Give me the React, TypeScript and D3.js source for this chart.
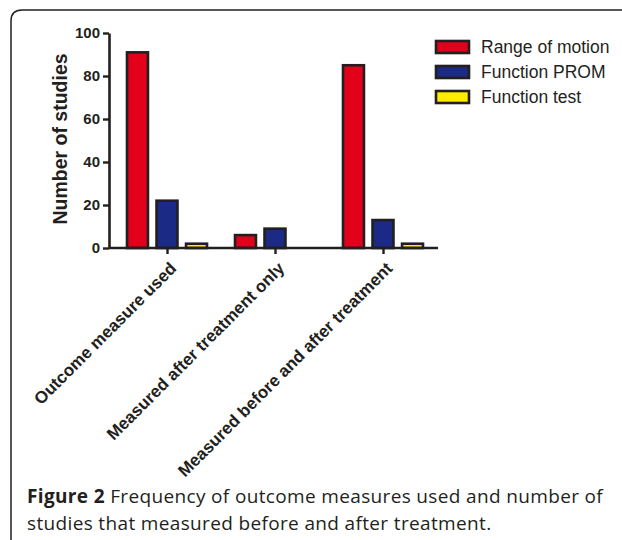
import { useEffect, useRef } from 'react';
import * as d3 from 'd3';

const categories = [
  'Outcome measure used',
  'Measured after treatment only',
  'Measured before and after treatment',
];
const seriesNames = ['Range of motion', 'Function PROM', 'Function test'];
const seriesColors = ['#e3001b', '#1b2a84', '#ffec00'];
const rangeOfMotion = [91, 6, 85];
const functionProm = [22, 9, 13];
const functionTest = [2, 0, 2];
const yTicks = [0, 20, 40, 60, 80, 100];

export default function App() {
  const svgRef = useRef<SVGSVGElement>(null);

  useEffect(() => {
    if (!svgRef.current) return;
    const svg = d3.select(svgRef.current);
    svg.selectAll('*').remove();

    const width = 622;
    const height = 540;
    const plot = { left: 109, right: 438, top: 33, bottom: 248 };
    const font = 'Liberation Sans, Arial, sans-serif';

    svg.append('rect').attr('width', width).attr('height', height).attr('fill', '#fff');

    // Frame (rounded top-left corner only)
    svg
      .append('path')
      .attr('d', `M11,540 L11,21 Q11,10 22,10 L622,10`)
      .attr('fill', 'none')
      .attr('stroke', '#231f20')
      .attr('stroke-width', 1.5);

    const series = [rangeOfMotion, functionProm, functionTest];

    const x0 = d3
      .scalePoint<string>()
      .domain(categories)
      .range([167, 383]);

    const x1 = d3
      .scaleBand<number>()
      .domain([0, 1, 2])
      .range([-40, 40])
      .paddingInner(0.29)
      .paddingOuter(0);

    const y = d3.scaleLinear().domain([0, 100]).range([plot.bottom, plot.top]);

    const g = svg.append('g');

    // Bars
    categories.forEach((cat, ci) => {
      series.forEach((vals, si) => {
        const v = vals[ci];
        if (v <= 0) return;
        const bx = (x0(cat) as number) + (x1(si) as number);
        g.append('rect')
          .attr('x', bx)
          .attr('y', y(v))
          .attr('width', x1.bandwidth())
          .attr('height', y(0) - y(v))
          .attr('fill', seriesColors[si])
          .attr('stroke', '#231f20')
          .attr('stroke-width', 2.6);
      });
    });

    // Y axis
    const yAxis = g
      .append('g')
      .attr('transform', `translate(${plot.left},0)`)
      .call(d3.axisLeft(y).tickValues(yTicks).tickSize(6).tickPadding(3).tickSizeOuter(0));
    yAxis.select('.domain').attr('stroke', '#231f20').attr('stroke-width', 2.6);
    yAxis.selectAll('.tick line').attr('stroke', '#231f20').attr('stroke-width', 2.4);
    yAxis
      .selectAll('.tick text')
      .attr('fill', '#231f20')
      .attr('font-family', font)
      .attr('font-weight', 'bold')
      .attr('font-size', 15);

    // X axis
    const xAxis = g
      .append('g')
      .attr('transform', `translate(0,${plot.bottom})`)
      .call(d3.axisBottom(x0).tickSize(6).tickSizeOuter(0).tickFormat(() => ''));
    xAxis
      .select('.domain')
      .attr('d', `M${plot.left},0H${plot.right}`)
      .attr('stroke', '#231f20')
      .attr('stroke-width', 2.6);
    xAxis.selectAll('.tick line').attr('stroke', '#231f20').attr('stroke-width', 2.4);

    // Rotated category labels
    categories.forEach((cat) => {
      const cx = (x0(cat) as number) + 2;
      g.append('text')
        .attr('transform', `translate(${cx},${plot.bottom + 13}) rotate(-45)`)
        .attr('text-anchor', 'end')
        .attr('dy', '0.7em')
        .attr('font-family', font)
        .attr('font-weight', 'bold')
        .attr('font-size', 17)
        .attr('fill', '#231f20')
        .text(cat);
    });

    // Y axis title
    svg
      .append('text')
      .attr('transform', `translate(67,139) rotate(-90)`)
      .attr('text-anchor', 'middle')
      .attr('font-family', font)
      .attr('font-weight', 'bold')
      .attr('font-size', 19.5)
      .attr('fill', '#231f20')
      .text('Number of studies');

    // Legend
    const legend = svg.append('g').attr('transform', 'translate(436,47)');
    seriesNames.forEach((name, i) => {
      const row = legend.append('g').attr('transform', `translate(0,${i * 25})`);
      row
        .append('rect')
        .attr('x', 0)
        .attr('y', -6)
        .attr('width', 33)
        .attr('height', 12)
        .attr('fill', seriesColors[i])
        .attr('stroke', '#231f20')
        .attr('stroke-width', 2.6);
      row
        .append('text')
        .attr('x', 45)
        .attr('dy', '0.35em')
        .attr('font-family', font)
        .attr('font-size', 17.5)
        .attr('fill', '#231f20')
        .text(name);
    });

    // Caption
    const caption = svg
      .append('text')
      .attr('font-family', 'Open Sans, sans-serif')
      .attr('font-size', 19)
      .attr('letter-spacing', 0.35)
      .attr('fill', '#231f20');
    const line1 = caption.append('tspan').attr('x', 27).attr('y', 503);
    line1.append('tspan').attr('font-weight', 'bold').text('Figure 2');
    line1.append('tspan').text(' Frequency of outcome measures used and number of');
    caption
      .append('tspan')
      .attr('x', 27)
      .attr('y', 530)
      .text('studies that measured before and after treatment.');
  }, []);

  return (
    <div style={{ position: 'absolute', left: 0, top: 0 }}>
      <svg ref={svgRef} width={622} height={540} />
    </div>
  );
}
